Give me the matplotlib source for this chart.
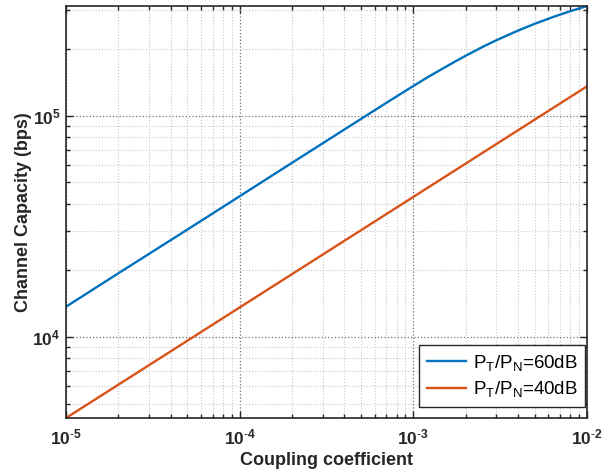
import matplotlib
matplotlib.use("Agg")
import matplotlib.pyplot as plt
from matplotlib.ticker import LogLocator, FixedLocator, FixedFormatter, NullFormatter

# ---- data ----
coupling_blue = [1e-5, 2e-5, 5e-5, 1e-4, 2e-4, 5e-4, 7e-4, 1e-3, 1.2e-3, 1.4e-3, 1.7e-3, 2e-3,
                 2.5e-3, 3e-3, 4e-3, 5e-3, 6.5e-3, 8e-3, 1e-2]
capacity_60dB = [1.37e4, 1.94e4, 3.06e4, 4.33e4, 6.13e4, 9.69e4, 1.146e5, 1.365e5, 1.49e5, 1.598e5,
                 1.743e5, 1.87e5, 2.049e5, 2.196e5, 2.429e5, 2.609e5, 2.815e5, 2.974e5, 3.14e5]
coupling_orange = [1e-5, 1e-4, 1e-3, 1e-2]
capacity_40dB = [4.3e3, 1.36e4, 4.3e4, 1.36e5]
labels = [r'P$_T$/P$_N$=60dB', r'P$_T$/P$_N$=40dB']
xtick_vals = [1e-5, 1e-4, 1e-3, 1e-2]
xtick_labels = [r'$\mathbf{10^{\text{-}5}}$', r'$\mathbf{10^{\text{-}4}}$',
                r'$\mathbf{10^{\text{-}3}}$', r'$\mathbf{10^{\text{-}2}}$']
ytick_vals = [1e4, 1e5]
ytick_labels = [r'$\mathbf{10^{4}}$', r'$\mathbf{10^{5}}$']

plt.rcParams['font.family'] = ['Liberation Sans', 'DejaVu Sans']
plt.rcParams['mathtext.fontset'] = 'custom'
plt.rcParams['mathtext.rm'] = 'Liberation Sans'
plt.rcParams['mathtext.it'] = 'Liberation Sans:italic'
plt.rcParams['mathtext.bf'] = 'Liberation Sans:bold'
plt.rcParams['mathtext.default'] = 'regular'

fig = plt.figure(figsize=(6.03, 4.75), dpi=100)
ax = fig.add_axes([66/603, 57/475, 521/603, 412/475])

ax.plot(coupling_blue, capacity_60dB, color='#0072BD', lw=1.7, label=labels[0])
ax.plot(coupling_orange, capacity_40dB, color='#D95319', lw=1.7, label=labels[1])

ax.set_xscale('log')
ax.set_yscale('log')
ax.set_xlim(1e-5, 1e-2)
ax.set_ylim(min(capacity_40dB), max(capacity_60dB))

ax.xaxis.set_major_locator(FixedLocator(xtick_vals))
ax.xaxis.set_major_formatter(FixedFormatter(xtick_labels))
ax.yaxis.set_major_locator(FixedLocator(ytick_vals))
ax.yaxis.set_major_formatter(FixedFormatter(ytick_labels))
ax.xaxis.set_minor_locator(LogLocator(base=10, subs=range(2, 10), numticks=20))
ax.yaxis.set_minor_locator(LogLocator(base=10, subs=range(2, 10), numticks=20))
ax.xaxis.set_minor_formatter(NullFormatter())
ax.yaxis.set_minor_formatter(NullFormatter())

ax.tick_params(which='both', direction='in', top=True, right=True, labelsize=12.5,
               colors='#262626', width=1.0)
ax.tick_params(which='major', length=5)
ax.tick_params(axis='x', which='major', pad=7)
ax.tick_params(axis='y', which='major', pad=4)
ax.tick_params(which='minor', length=3)
for s in ax.spines.values():
    s.set_color('#262626')
    s.set_linewidth(1.2)

ax.grid(True, which='major', linestyle=':', color='0.45', lw=0.9)
ax.grid(True, which='minor', linestyle=':', color='0.78', lw=0.8)
ax.set_axisbelow(True)

ax.set_xlabel('Coupling coefficient', fontsize=13, fontweight='bold', color='#262626', labelpad=3)
ax.set_ylabel('Channel Capacity (bps)', fontsize=13, fontweight='bold', color='#262626', labelpad=0)

leg = ax.legend(loc='lower right', bbox_to_anchor=(0.996, 0.027), borderaxespad=0,
                fontsize=13.5, frameon=True, fancybox=False, handlelength=2.1,
                handletextpad=0.35, labelspacing=0.35, borderpad=0.4)
leg.get_frame().set_edgecolor('#262626')
leg.get_frame().set_linewidth(1.0)
leg.get_frame().set_alpha(1)

fig.savefig('out.png', dpi=100)
